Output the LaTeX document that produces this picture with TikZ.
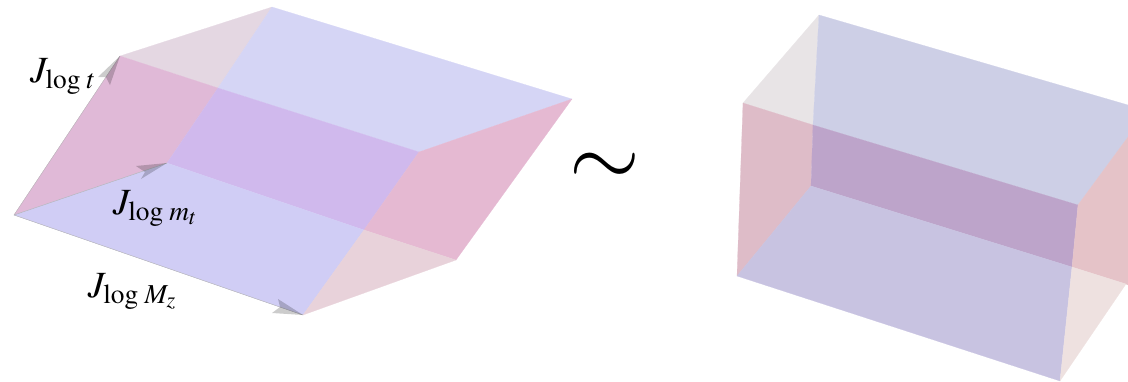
\documentclass[tikz,border=0pt]{standalone}
\usepackage{amsmath}
\usepackage{mathptmx}
\usetikzlibrary{arrows.meta,positioning,calc}
\definecolor{paleL}{RGB}{228,215,226}
\definecolor{pinkL}{RGB}{224,185,215}
\definecolor{blueT}{RGB}{213,213,245}
\definecolor{blueB}{RGB}{208,205,245}
\definecolor{purpL}{RGB}{208,185,237}
\definecolor{pinkR}{RGB}{229,185,210}
\definecolor{paleR}{RGB}{232,210,218}
\definecolor{paleA}{RGB}{232,228,230}
\definecolor{pinkA}{RGB}{222,188,200}
\definecolor{blueC}{RGB}{205,207,230}
\definecolor{purpA}{RGB}{189,164,202}
\definecolor{blueD}{RGB}{200,195,225}
\definecolor{pinkB}{RGB}{229,195,200}
\definecolor{paleB}{RGB}{238,225,224}

\begin{document}
\begin{tikzpicture}[
  x=1pt, y=-1pt,
  face/.style={line width=0.2pt, line join=round},
  vec/.style={draw=black!30, line width=0.4pt},
  head/.style={fill=black, fill opacity=0.2},
  lab/.style={font=\fontsize{37}{40}\selectfont, inner sep=0pt},
]
  \useasboundingbox (0,0) rectangle (1128,381);
  % sheared cell
  \coordinate (o) at (14,215);
  \coordinate (t) at (120,56);
  \coordinate (m) at (167,163);
  \coordinate (z) at (303,315);
  \coordinate (e) at (272,7);
  \coordinate (f) at (456,260);
  \coordinate (g) at (419,152);
  \coordinate (h) at (572,99);
  \coordinate (x) at (218,88);
  \coordinate (y) at (364,230);

  \path[face, fill=paleL, draw=paleL] (t) -- (e) -- (x) -- cycle;
  \path[face, fill=pinkL, draw=pinkL] (o) -- (t) -- (x) -- (m) -- cycle;
  \path[face, fill=blueT, draw=blueT] (e) -- (h) -- (g) -- (x) -- cycle;
  \path[face, fill=purpL, draw=purpL] (x) -- (g) -- (y) -- (m) -- cycle;
  \path[face, fill=blueB, draw=blueB] (o) -- (m) -- (y) -- (z) -- cycle;
  \path[face, fill=pinkR, draw=pinkR] (g) -- (h) -- (f) -- (y) -- cycle;
  \path[face, fill=paleR, draw=paleR] (y) -- (f) -- (z) -- cycle;

  % the three vectors
  \draw[vec] (o) -- (t);
  \draw[vec] (o) -- (m);
  \draw[vec] (o) -- (z);
  \fill[head] (t) -- (98,77) -- (106,77) -- (110,85) -- cycle;
  \fill[head] (m) -- (136,166) -- (145,172) -- (141,179) -- cycle;
  \fill[head] (z) -- (272,313) -- (280,307) -- (278,299) -- cycle;

  \node[lab] (jt) at (63,76) {$J_{\log\,t}$};
  \node[lab] (jm) at (155,208) {$J_{\log\,m_t}$};
  \node[lab] (jz) at (132,291) {$J_{\log\,M_z}$};

  \node[font=\fontsize{91}{95}\selectfont, inner sep=0pt] (eq) at (605,170) {$\sim$};

  % straight cell
  \coordinate (p) at (819,15);
  \coordinate (q) at (743,103);
  \coordinate (r) at (737,276);
  \coordinate (s) at (811,186);
  \coordinate (a) at (813,125);
  \coordinate (u) at (1078,205);
  \coordinate (v) at (1072,267);
  \coordinate (w) at (1060,381);
  \coordinate (k) at (1126,284);
  \coordinate (c1) at (1128,105);
  \coordinate (c2) at (1128,137);
  \coordinate (c3) at (1128,285);

  \path[face, fill=paleA, draw=paleA] (p) -- (q) -- (a) -- cycle;
  \path[face, fill=pinkA, draw=pinkA] (q) -- (a) -- (s) -- (r) -- cycle;
  \path[face, fill=blueC, draw=blueC] (p) -- (c1) -- (c2) -- (u) -- (a) -- cycle;
  \path[face, fill=purpA, draw=purpA] (a) -- (u) -- (v) -- (s) -- cycle;
  \path[face, fill=blueD, draw=blueD] (s) -- (v) -- (w) -- (r) -- cycle;
  \path[face, fill=pinkB, draw=pinkB] (u) -- (c2) -- (c3) -- (k) -- (v) -- cycle;
  \path[face, fill=paleB, draw=paleB] (v) -- (k) -- (w) -- cycle;
\end{tikzpicture}
\end{document}
